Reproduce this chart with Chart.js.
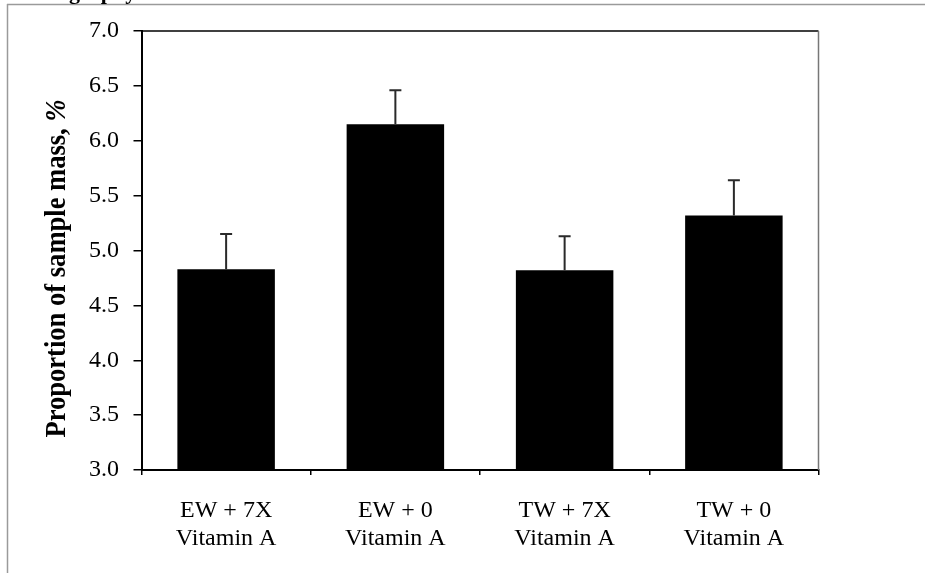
<!DOCTYPE html>
<html><head><meta charset="utf-8">
<script src="https://cdn.jsdelivr.net/npm/chart.js@4.4.0/dist/chart.umd.min.js"></script>
<style>html,body{margin:0;padding:0;background:#fff;overflow:hidden}canvas{display:block}</style>
</head><body>
<canvas id="c" width="925" height="573"></canvas>
<script>
const categories = [['EW + 7X','Vitamin A'],['EW + 0','Vitamin A'],['TW + 7X','Vitamin A'],['TW + 0','Vitamin A']];
const meanValues = [4.83, 6.15, 4.82, 5.32];
const errorValues = [0.32, 0.31, 0.31, 0.32];
const yTickValues = [3.0, 3.5, 4.0, 4.5, 5.0, 5.5, 6.0, 6.5, 7.0];
const yAxisTitle = 'Proportion of sample mass, ';
const yAxisUnit = '%';
const cutTitle = 'graphy';

const SERIF = "'Liberation Serif','Times New Roman',serif";

const frameAndExtras = {
  id: 'frameAndExtras',
  beforeDraw(chart) {
    const ctx = chart.ctx;
    ctx.save();
    ctx.fillStyle = '#fff';
    ctx.fillRect(0, 0, chart.width, chart.height);
    ctx.strokeStyle = '#9a9a9a';
    ctx.lineWidth = 1.5;
    ctx.beginPath();
    ctx.moveTo(7, 4.5); ctx.lineTo(chart.width, 4.5);
    ctx.moveTo(7.5, 4); ctx.lineTo(7.5, chart.height);
    ctx.stroke();
    ctx.fillStyle = '#000';
    ctx.font = 'bold 22px ' + SERIF;
    ctx.textBaseline = 'alphabetic';
    ctx.fillText(cutTitle, 69, -1);
    ctx.restore();
  },
  afterDraw(chart) {
    const ctx = chart.ctx;
    const a = chart.chartArea;
    ctx.save();
    ctx.strokeStyle = '#000';
    ctx.lineWidth = 1.5;
    ctx.beginPath();
    ctx.moveTo(a.left, a.top); ctx.lineTo(a.right, a.top);
    ctx.stroke();
    ctx.strokeStyle = '#777';
    ctx.lineWidth = 1.5;
    ctx.beginPath();
    ctx.moveTo(a.right, a.top); ctx.lineTo(a.right, a.bottom);
    ctx.stroke();
    // y-axis title (bold, slightly condensed like the original)
    ctx.translate(65, 268.5);
    ctx.rotate(-Math.PI / 2);
    ctx.scale(0.885, 1);
    ctx.fillStyle = '#000';
    ctx.textBaseline = 'alphabetic';
    ctx.font = 'bold 30px ' + SERIF;
    const w1 = ctx.measureText(yAxisTitle).width;
    ctx.font = 'bold italic 30px ' + SERIF;
    const w2 = ctx.measureText(yAxisUnit).width;
    const start = -(w1 + w2) / 2;
    ctx.font = 'bold 30px ' + SERIF;
    ctx.fillText(yAxisTitle, start, 0);
    ctx.font = 'bold italic 30px ' + SERIF;
    ctx.fillText(yAxisUnit, start + w1, 0);
    ctx.restore();
  }
};

const errorBars = {
  id: 'errorBars',
  afterDatasetsDraw(chart) {
    const ctx = chart.ctx;
    const meta = chart.getDatasetMeta(0);
    const ys = chart.scales.y;
    ctx.save();
    ctx.strokeStyle = '#2a2a2a';
    ctx.lineWidth = 2;
    meta.data.forEach((bar, i) => {
      const x = bar.x;
      const yTop = ys.getPixelForValue(meanValues[i] + errorValues[i]);
      const yBase = ys.getPixelForValue(meanValues[i]);
      ctx.beginPath();
      ctx.moveTo(x, yBase); ctx.lineTo(x, yTop);
      ctx.moveTo(x - 6, yTop); ctx.lineTo(x + 6, yTop);
      ctx.stroke();
    });
    ctx.restore();
  }
};

new Chart(document.getElementById('c'), {
  type: 'bar',
  data: {
    labels: categories,
    datasets: [{
      data: meanValues,
      backgroundColor: '#000',
      borderWidth: 0,
      barPercentage: 0.576,
      categoryPercentage: 1.0
    }]
  },
  options: {
    responsive: false,
    animation: false,
    devicePixelRatio: 1,
    layout: { padding: { top: 31, right: 106.5, left: 0, bottom: 0 } },
    plugins: { legend: { display: false }, tooltip: { enabled: false }, title: { display: false } },
    scales: {
      x: {
        afterFit(s) { s.height = 103; },
        border: { display: true, color: '#000', width: 2 },
        grid: { offset: true, drawOnChartArea: false, drawTicks: true, tickLength: 5, color: '#000', lineWidth: 1.5 },
        ticks: { color: '#000', font: { family: SERIF, size: 24, lineHeight: 1.17 }, padding: 22, maxRotation: 0, autoSkip: false }
      },
      y: {
        min: 3, max: 7,
        afterFit(s) { s.width = 141.5; },
        afterBuildTicks(s) { s.ticks = yTickValues.map(v => ({ value: v })); },
        border: { display: true, color: '#000', width: 2 },
        grid: { drawOnChartArea: false, drawTicks: true, tickLength: 8, color: '#000', lineWidth: 1.5 },
        ticks: { color: '#000', font: { family: SERIF, size: 24 }, padding: 14.5, callback: v => Number(v).toFixed(1) }
      }
    }
  },
  plugins: [frameAndExtras, errorBars]
});
</script>
</body></html>
